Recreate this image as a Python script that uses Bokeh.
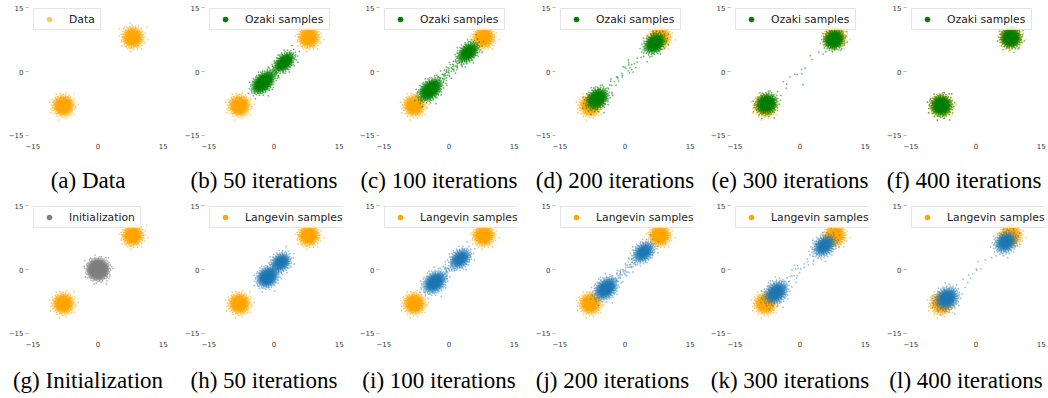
import numpy as np
from bokeh.plotting import figure
from bokeh.layouts import row, column
from bokeh.models import Range1d, FixedTicker, Legend, LegendItem, Title
from bokeh.embed import file_html
from bokeh.resources import INLINE

# ---------------- data ----------------
TICKS = [-15, 0, 15]
TICK_LABELS = ["\u221215", "0", "15"]

# target data: two Gaussian blobs
DATA_CX = [-8.0, 8.0]
DATA_CY = [-8.0, 8.0]
DATA_SD = [1.05, 1.05]
DATA_N = [700, 700]

# initialization blob
INIT_CX = 0.0
INIT_CY = 0.0
INIT_SD = 1.05
INIT_N = 1400

ITERS = [50, 100, 200, 300, 400]

# Ozaki samples: lower / upper cluster centres, spreads (along / across diagonal), counts
OZ_LOW_X = [-2.5, -4.3, -6.4, -7.7, -8.0]
OZ_LOW_Y = [-2.6, -4.3, -6.4, -7.6, -8.0]
OZ_UP_X = [2.4, 4.4, 6.8, 7.8, 8.0]
OZ_UP_Y = [2.2, 4.5, 6.6, 7.5, 7.9]
OZ_SD_MAJ = [1.35, 1.4, 1.25, 1.1, 1.05]
OZ_SD_MIN = [0.85, 0.9, 0.95, 1.0, 1.05]
OZ_N_LOW = [820, 780, 700, 690, 700]
OZ_N_UP = [520, 540, 640, 690, 700]
OZ_N_STRAY = [60, 70, 40, 15, 0]

# Langevin samples
LV_LOW_X = [-1.5, -3.3, -4.4, -5.5, -6.7]
LV_LOW_Y = [-1.8, -3.0, -4.5, -5.4, -6.8]
LV_UP_X = [1.6, 2.6, 4.3, 5.6, 6.8]
LV_UP_Y = [1.7, 2.5, 4.1, 5.6, 6.4]
LV_SD_MAJ = [1.15, 1.3, 1.35, 1.35, 1.25]
LV_SD_MIN = [0.95, 0.95, 0.95, 1.0, 1.05]
LV_N_LOW = [820, 800, 780, 740, 740]
LV_N_UP = [540, 540, 560, 620, 620]
LV_N_STRAY = [30, 40, 60, 30, 15]

CAPTIONS_TOP = ["(a) Data", "(b) 50 iterations", "(c) 100 iterations",
                "(d) 200 iterations", "(e) 300 iterations", "(f) 400 iterations"]
CAPTIONS_BOT = ["(g) Initialization", "(h) 50 iterations", "(i) 100 iterations",
                "(j) 200 iterations", "(k) 300 iterations", "(l) 400 iterations"]

ORANGE = "#ffa500"
GREEN = "#008000"
GRAY = "#808080"
BLUE = "#1f77b4"


# deterministic (low-discrepancy) Gaussian cloud around a cluster centre
def cloud(n, cx, cy, sd_maj, sd_min, start=0):
    if n <= 0:
        return np.array([]), np.array([])
    g = 1.32471795724474602596
    i = np.arange(start, start + n) + 1.0
    u = (0.5 + i / g) % 1.0
    v = (0.5 + i / (g * g)) % 1.0
    u = np.clip(u, 1e-4, 1 - 1e-9)
    r = np.sqrt(-2.0 * np.log(u))
    a = r * np.cos(2 * np.pi * v) * sd_maj
    b = r * np.sin(2 * np.pi * v) * sd_min
    c = np.sqrt(0.5)
    return cx + c * (a - b), cy + c * (a + b)


def data_points():
    xs, ys = [], []
    for k in range(len(DATA_CX)):
        x, y = cloud(DATA_N[k], DATA_CX[k], DATA_CY[k], DATA_SD[k], DATA_SD[k], start=17 + 911 * k)
        xs.append(x)
        ys.append(y)
    return np.concatenate(xs), np.concatenate(ys)


def sample_points(lx, ly, ux, uy, smaj, smin, nl, nu, ns, seed):
    x1, y1 = cloud(nl, lx, ly, smaj, smin, start=seed)
    x2, y2 = cloud(nu, ux, uy, smaj * 0.95, smin * 0.95, start=seed + 3001)
    x3, y3 = cloud(ns, (lx + ux) / 2, (ly + uy) / 2, max(abs(ux - lx), 2.0) * 0.33, 0.7, start=seed + 7001)
    return np.concatenate([x1, x2, x3]), np.concatenate([y1, y2, y3])


# approximate advance widths (per em) of the serif caption font, used to centre captions
SERIF_W = {"(": .333, ")": .333, " ": .25, "a": .444, "b": .5, "c": .444, "d": .5, "e": .444,
           "g": .5, "h": .5, "i": .278, "k": .5, "l": .278, "n": .5, "o": .5, "r": .333,
           "s": .389, "t": .278, "z": .444, "D": .722, "I": .333}
CAP_PX = 23


def text_w(s):
    return sum(SERIF_W.get(ch, .5) for ch in s) * CAP_PX


FRAME_W = 139
WIDTHS = [176, 175, 176, 175, 176, 170]
LEFT = 28
ROWS = [dict(height=198, top=3, frame_h=136, spacer=2),
        dict(height=198, top=3, frame_h=136, spacer=4)]
LEG_LABEL_W = {"Data": 28, "Ozaki samples": 81, "Initialization": 68, "Langevin samples": 98}


def make_panel(col, r, caption, legend_label, legend_color, legend_alpha, layers):
    spec = ROWS[r]
    w = WIDTHS[col]
    p = figure(width=w, height=spec["height"], x_range=Range1d(-16, 16), y_range=Range1d(-16, 16),
               output_backend="svg", toolbar_location=None, title=None,
               min_border_left=LEFT, min_border_right=w - LEFT - FRAME_W,
               min_border_top=spec["top"],
               min_border_bottom=spec["height"] - spec["top"] - spec["frame_h"])
    p.outline_line_color = None
    p.grid.visible = False
    p.background_fill_color = "white"
    for ax in (p.xaxis[0], p.yaxis[0]):
        ax.ticker = FixedTicker(ticks=TICKS)
        ax.major_label_overrides = {t: s for t, s in zip(TICKS, TICK_LABELS)}
        ax.axis_line_color = None
        ax.minor_tick_line_color = None
        ax.major_label_text_font = "DejaVu Sans"
        ax.major_label_text_font_size = "7px"
        ax.major_label_text_color = "#3a3a3a"
        ax.major_tick_in = 0
    p.xaxis.major_tick_out = 0
    p.xaxis.major_label_standoff = 3
    # blank spacer label that separates tick labels from the caption below
    p.xaxis.axis_label = " "
    p.xaxis.axis_label_text_font_size = "8px"
    p.xaxis.axis_label_standoff = spec["spacer"]
    p.yaxis.major_tick_out = 3
    p.yaxis.major_tick_line_color = "#b8b8b8"
    p.yaxis.major_label_standoff = 2

    for (x, y, color, alpha) in layers:
        p.scatter(x, y, size=1.8, fill_color=color, line_color=None, fill_alpha=alpha)

    # legend swatch: one point placed outside the visible range
    dummy = p.scatter([100], [100], size=6, fill_color=legend_color, line_color=None,
                      fill_alpha=legend_alpha)
    leg = Legend(items=[LegendItem(label=legend_label, renderers=[dummy])], location="top_left")
    leg.margin = 5
    leg.padding = 3
    leg.spacing = 0
    leg.glyph_width = 24
    leg.glyph_height = 14
    leg.label_height = 14
    leg.label_width = LEG_LABEL_W[legend_label]
    leg.label_standoff = 8
    leg.label_text_font = "DejaVu Sans"
    leg.label_text_font_size = "10.8px"
    leg.label_text_color = "#222222"
    leg.border_line_color = "#cccccc"
    leg.background_fill_alpha = 0.8
    p.add_layout(leg)

    t = Title(text=caption, align="left", offset=FRAME_W / 2 - 10 - text_w(caption) / 2,
              vertical_align="bottom", standoff=0,
              text_font="Liberation Serif", text_font_size=f"{CAP_PX}px",
              text_font_style="normal", text_color="black")
    p.add_layout(t, "below")
    return p


dx, dy = data_points()
top, bottom = [], []

top.append(make_panel(0, 0, CAPTIONS_TOP[0], "Data", ORANGE, 0.6, [(dx, dy, ORANGE, 0.55)]))
for k in range(len(ITERS)):
    sx, sy = sample_points(OZ_LOW_X[k], OZ_LOW_Y[k], OZ_UP_X[k], OZ_UP_Y[k], OZ_SD_MAJ[k], OZ_SD_MIN[k],
                           OZ_N_LOW[k], OZ_N_UP[k], OZ_N_STRAY[k], seed=101 + 37 * k)
    top.append(make_panel(k + 1, 0, CAPTIONS_TOP[k + 1], "Ozaki samples", GREEN, 1.0,
                          [(dx, dy, ORANGE, 0.55), (sx, sy, GREEN, 0.55)]))

ix, iy = cloud(INIT_N, INIT_CX, INIT_CY, INIT_SD, INIT_SD, start=55)
bottom.append(make_panel(0, 1, CAPTIONS_BOT[0], "Initialization", GRAY, 1.0,
                         [(dx, dy, ORANGE, 0.55), (ix, iy, GRAY, 0.55)]))
for k in range(len(ITERS)):
    sx, sy = sample_points(LV_LOW_X[k], LV_LOW_Y[k], LV_UP_X[k], LV_UP_Y[k], LV_SD_MAJ[k], LV_SD_MIN[k],
                           LV_N_LOW[k], LV_N_UP[k], LV_N_STRAY[k], seed=203 + 41 * k)
    bottom.append(make_panel(k + 1, 1, CAPTIONS_BOT[k + 1], "Langevin samples", ORANGE, 1.0,
                             [(dx, dy, ORANGE, 0.55), (sx, sy, BLUE, 0.45)]))

layout = column(row(*top), row(*bottom))
open("out.html", "w").write(file_html(layout, INLINE, "Ozaki vs Langevin samples"))
